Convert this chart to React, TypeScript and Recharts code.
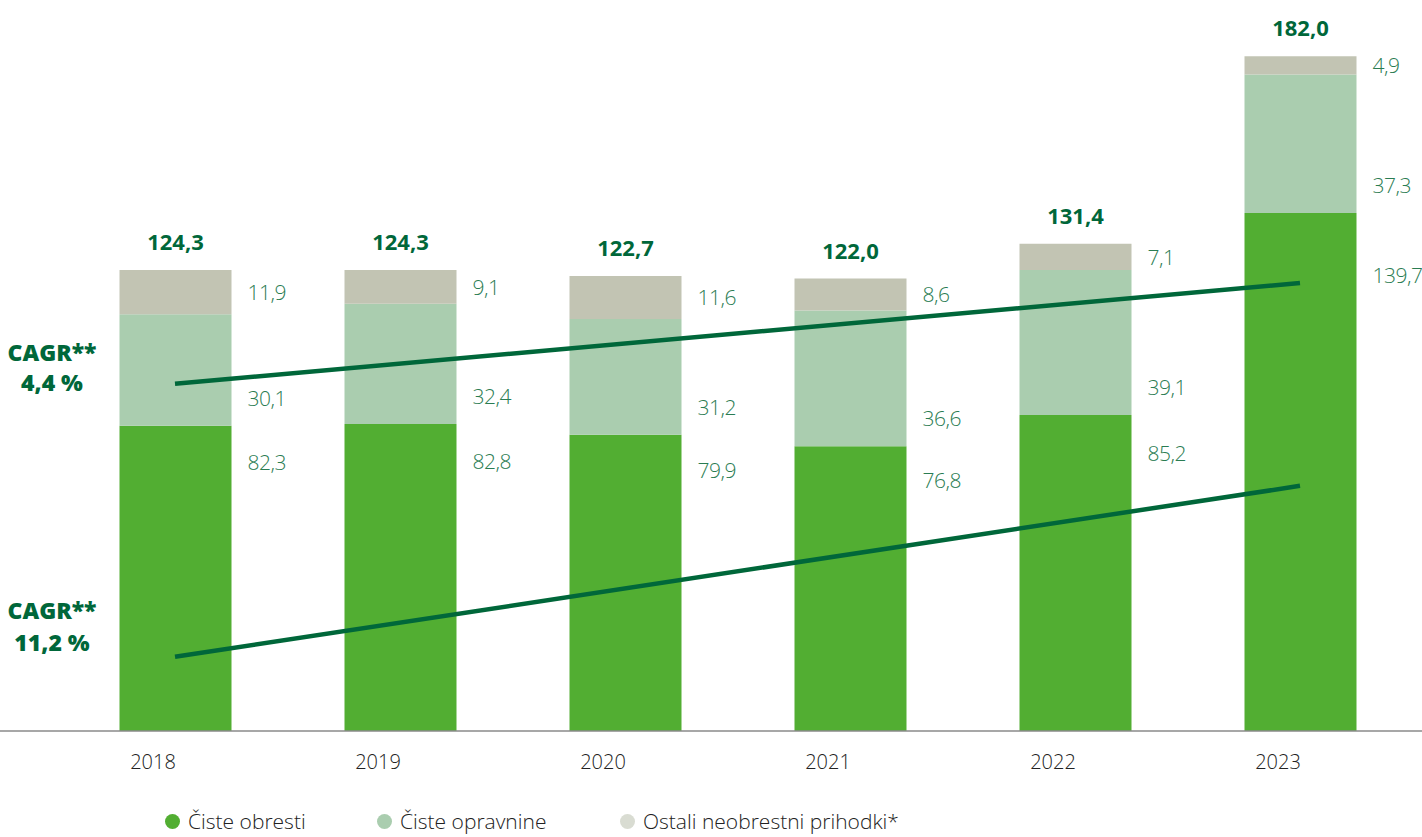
import React from 'react';
import { ComposedChart, Bar, Line, XAxis, YAxis, Legend, LabelList } from 'recharts';

const years = ['2018', '2019', '2020', '2021', '2022', '2023'];
const cisteObresti = [82.3, 82.8, 79.9, 76.8, 85.2, 139.7];
const cisteOpravnine = [30.1, 32.4, 31.2, 36.6, 39.1, 37.3];
const ostaliPrihodki = [11.9, 9.1, 11.6, 8.6, 7.1, 4.9];
const totals = [124.3, 124.3, 122.7, 122.0, 131.4, 182.0];
const trendHigh = [93.6, null, null, null, null, 120.8];
const trendLow = [20.0, null, null, null, null, 66.1];
const cagrHigh = ['CAGR**', '4,4 %'];
const cagrLow = ['CAGR**', '11,2 %'];
const seriesNames = ['Čiste obresti', 'Čiste opravnine', 'Ostali neobrestni prihodki*'];

const data = years.map((y, i) => ({
  year: y,
  a: cisteObresti[i],
  b: cisteOpravnine[i],
  c: ostaliPrihodki[i],
  total: totals[i],
  th: trendHigh[i],
  tl: trendLow[i],
}));

const C_DARK = '#00673A';
const C_VAL = '#2A7C52';
const C_A = '#52AE32';
const C_B = '#AACDAF';
const C_C = '#C2C4B3';
const FONT = "'Open Sans', 'DejaVu Sans', sans-serif";

const fmt = (v: number) => v.toFixed(1).replace('.', ',');

const makeSegLabel = (mode: 'bottom' | 'middle' | 'top') => (props: any) => {
  const { x, y, width, height, value } = props;
  if (value == null) return null;
  let ty = y + height / 2;
  if (mode === 'bottom') ty = y + height * 0.12;
  if (mode === 'middle') ty = y + height - 28;
  return (
    <text
      x={x + width + 16}
      y={ty}
      fill={C_VAL}
      fontFamily={FONT}
      fontWeight={300}
      fontSize={21}
      letterSpacing={-0.5}
      dominantBaseline="central"
      textAnchor="start"
    >
      {fmt(Number(value))}
    </text>
  );
};

const TotalLabel = (props: any) => {
  const { x, y, width, index } = props;
  return (
    <text
      x={x + width / 2}
      y={y - 29}
      fill={C_DARK}
      fontFamily={FONT}
      fontWeight={700}
      fontSize={22}
      dominantBaseline="central"
      textAnchor="middle"
    >
      {fmt(totals[index])}
    </text>
  );
};

const makeCagrLabel = (lines: string[], d1: number, d2: number) => (props: any) => {
  const { x, y, index } = props;
  if (index !== 0) return null;
  return (
    <g>
      <text x={x - 123} y={y + d1} fill={C_DARK} fontFamily={FONT} fontWeight={800} fontSize={23} textAnchor="middle" dominantBaseline="central">
        {lines[0]}
      </text>
      <text x={x - 123} y={y + d2} fill={C_DARK} fontFamily={FONT} fontWeight={800} fontSize={23} textAnchor="middle" dominantBaseline="central">
        {lines[1]}
      </text>
    </g>
  );
};

const Tick = (props: any) => {
  const { x, y, payload } = props;
  return (
    <text x={x - 22} y={y + 22} fill="#222" fontFamily={FONT} fontWeight={300} fontSize={20} textAnchor="middle" dominantBaseline="central">
      {payload.value}
    </text>
  );
};

const legendColors = [C_A, C_B, '#D9DCD2'];
const legendLeft = [165, 377, 620];

const LegendContent = () => (
  <div style={{ position: 'relative', height: 30, width: 1422 }}>
    {seriesNames.map((n, i) => (
      <div
        key={n}
        style={{
          position: 'absolute',
          left: legendLeft[i],
          top: 0,
          display: 'flex',
          alignItems: 'center',
          fontFamily: FONT,
          fontWeight: 300,
          fontSize: 21,
          color: '#222',
          whiteSpace: 'nowrap',
        }}
      >
        <span style={{ display: 'inline-block', width: 15, height: 15, borderRadius: '50%', background: legendColors[i], marginRight: 8 }} />
        {n}
      </div>
    ))}
  </div>
);

export default function App() {
  return (
    <div style={{ position: 'absolute', left: 0, top: 0, width: 1422, height: 837, background: '#fff' }}>
      <ComposedChart width={1422} height={837} data={data} margin={{ top: 56, right: 0, left: 0, bottom: 0 }} barSize={112}>
        <XAxis
          dataKey="year"
          axisLine={{ stroke: '#8a8a8a', strokeWidth: 1.5 }}
          tickLine={false}
          tick={<Tick />}
          height={76}
          padding={{ left: 62.5, right: 9.5 }}
          interval={0}
        />
        <YAxis hide domain={[0, 182]} />
        <Legend verticalAlign="bottom" content={<LegendContent />} />
        <Bar dataKey="a" stackId="s" fill={C_A} isAnimationActive={false}>
          <LabelList dataKey="a" content={makeSegLabel('bottom')} />
        </Bar>
        <Bar dataKey="b" stackId="s" fill={C_B} isAnimationActive={false}>
          <LabelList dataKey="b" content={makeSegLabel('middle')} />
        </Bar>
        <Bar dataKey="c" stackId="s" fill={C_C} isAnimationActive={false}>
          <LabelList dataKey="c" content={makeSegLabel('top')} />
          <LabelList dataKey="total" content={<TotalLabel />} />
        </Bar>
        <Line dataKey="th" stroke={C_DARK} strokeWidth={4.5} dot={false} connectNulls isAnimationActive={false} legendType="none">
          <LabelList dataKey="th" content={makeCagrLabel(cagrHigh, -32, -2)} />
        </Line>
        <Line dataKey="tl" stroke={C_DARK} strokeWidth={4.5} dot={false} connectNulls isAnimationActive={false} legendType="none">
          <LabelList dataKey="tl" content={makeCagrLabel(cagrLow, -47, -15)} />
        </Line>
      </ComposedChart>
    </div>
  );
}
